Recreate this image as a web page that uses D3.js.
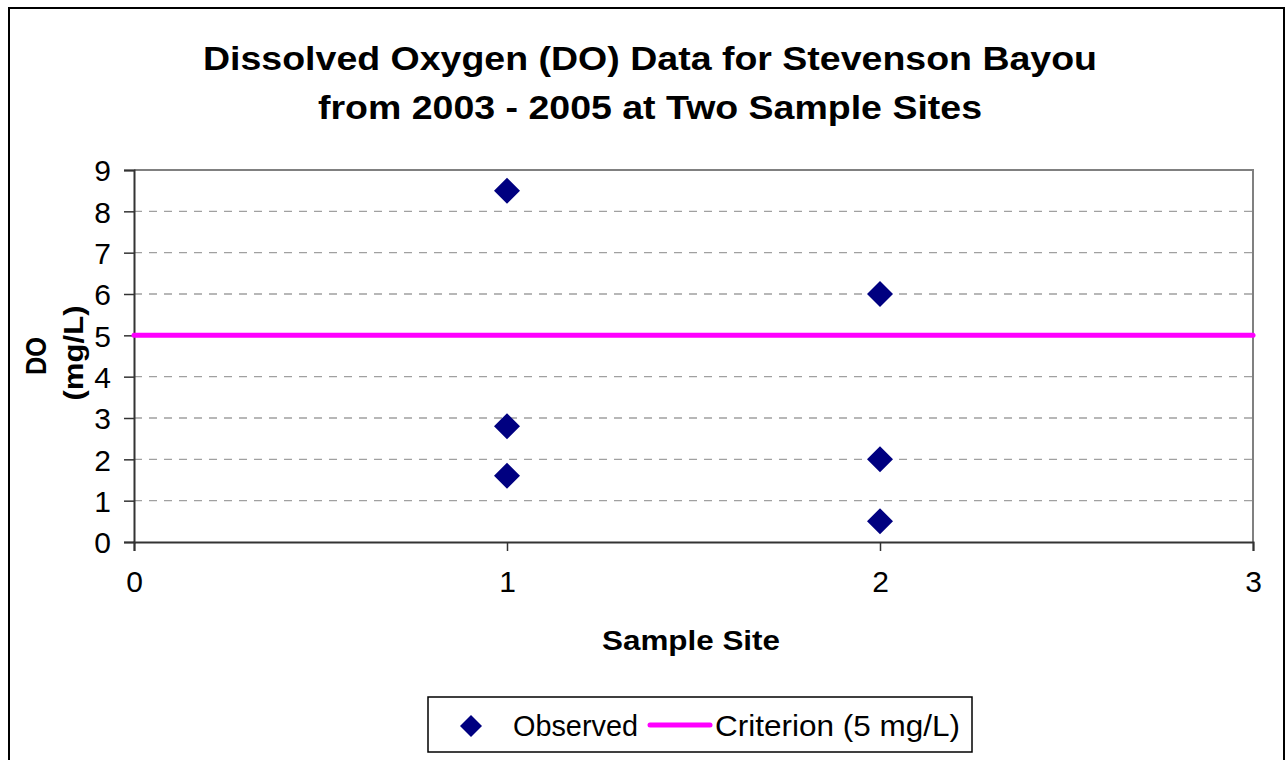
<!DOCTYPE html>
<html>
<head>
<meta charset="utf-8">
<script src="https://cdn.jsdelivr.net/npm/d3@7"></script>
<style>
  html, body { margin: 0; padding: 0; background: #fff; }
  svg { display: block; }
  text { font-family: "Liberation Sans", Arial, sans-serif; fill: #000; }
</style>
</head>
<body>
<svg id="chart" width="1286" height="760"></svg>
<script>
// ---- data ----
const titleLines = ["Dissolved Oxygen (DO) Data for Stevenson Bayou", "from 2003 - 2005 at Two Sample Sites"];
const xLabel = "Sample Site";
const yLabelLines = ["DO", "(mg/L)"];
const siteX = [1, 1, 1, 2, 2, 2];
const observedDO = [8.5, 2.8, 1.6, 6.0, 2.0, 0.5];
const criterionX = [0, 3];
const criterionY = [5, 5];
const xTicks = [0, 1, 2, 3];
const yTicks = [0, 1, 2, 3, 4, 5, 6, 7, 8, 9];
const legendLabels = ["Observed", "Criterion (5 mg/L)"];

// ---- layout ----
const svg = d3.select("#chart");
const plot = { left: 134, right: 1253, top: 170, bottom: 542 };
const x = d3.scaleLinear().domain([0, 3]).range([plot.left, plot.right]);
const y = d3.scaleLinear().domain([0, 9]).range([plot.bottom, plot.top]);

// outer chart border (bottom edge cropped off-screen)
svg.append("rect")
  .attr("x", 9).attr("y", 8).attr("width", 1275).attr("height", 800)
  .attr("fill", "none").attr("stroke", "#000").attr("stroke-width", 2);

// title
svg.append("text").attr("x", 650).attr("y", 70).attr("text-anchor", "middle")
  .style("font-size", "34px").style("font-weight", "bold")
  .attr("textLength", 894).attr("lengthAdjust", "spacingAndGlyphs")
  .text(titleLines[0]);
svg.append("text").attr("x", 650).attr("y", 119).attr("text-anchor", "middle")
  .style("font-size", "34px").style("font-weight", "bold")
  .attr("textLength", 664).attr("lengthAdjust", "spacingAndGlyphs")
  .text(titleLines[1]);

// gridlines
svg.append("g").selectAll("line").data(yTicks.filter(d => d > 0 && d < 9)).join("line")
  .attr("x1", plot.left).attr("x2", plot.right)
  .attr("y1", d => y(d)).attr("y2", d => y(d))
  .attr("stroke", "#a0a0a0").attr("stroke-width", 1.3).attr("stroke-dasharray", "8,7");

// plot frame top/right
svg.append("path")
  .attr("d", `M${plot.left},${plot.top}H${plot.right}V${plot.bottom}`)
  .attr("fill", "none").attr("stroke", "#808080").attr("stroke-width", 2);

// axes
const yAxis = d3.axisLeft(y).tickValues(yTicks).tickSize(10).tickPadding(13).tickFormat(d3.format("d"));
const gy = svg.append("g").attr("transform", `translate(${plot.left},0)`).call(yAxis);
gy.select(".domain").attr("stroke", "#333").attr("stroke-width", 2);
gy.selectAll(".tick line").attr("stroke", "#333").attr("stroke-width", 1.5);
gy.selectAll(".tick text").style("font-size", "30px").style("font-family", "'Liberation Sans', Arial, sans-serif").attr("fill", "#000").attr("dy", "0.36em");

const xAxis = d3.axisBottom(x).tickValues(xTicks).tickSize(9).tickPadding(20).tickFormat(d3.format("d"));
const gx = svg.append("g").attr("transform", `translate(0,${plot.bottom})`).call(xAxis);
gx.select(".domain").attr("stroke", "#333").attr("stroke-width", 2);
gx.selectAll(".tick line").attr("stroke", "#333").attr("stroke-width", 1.5);
gx.selectAll(".tick text").style("font-size", "30px").style("font-family", "'Liberation Sans', Arial, sans-serif").attr("fill", "#000");

// axis titles
svg.append("text").attr("x", 691).attr("y", 650).attr("text-anchor", "middle")
  .style("font-size", "27px").style("font-weight", "bold")
  .attr("textLength", 178).attr("lengthAdjust", "spacingAndGlyphs")
  .text(xLabel);
svg.append("text").attr("transform", "translate(46,356) rotate(-90)").attr("text-anchor", "middle")
  .style("font-size", "29px").style("font-weight", "bold")
  .attr("textLength", 38).attr("lengthAdjust", "spacingAndGlyphs")
  .text(yLabelLines[0]);
svg.append("text").attr("transform", "translate(83,353) rotate(-90)").attr("text-anchor", "middle")
  .style("font-size", "28px").style("font-weight", "bold")
  .attr("textLength", 95).attr("lengthAdjust", "spacingAndGlyphs")
  .text(yLabelLines[1]);

// criterion line
const line = d3.line().x(d => x(d[0])).y(d => y(d[1]));
svg.append("path").datum(criterionX.map((d, i) => [d, criterionY[i]]))
  .attr("d", line).attr("fill", "none").attr("stroke", "#FF00FF")
  .attr("stroke-width", 5).attr("stroke-linecap", "round");

// observed points
const diamond = (cx, cy, r) => `M${cx},${cy - r}L${cx + r},${cy}L${cx},${cy + r}L${cx - r},${cy}Z`;
svg.append("g").selectAll("path").data(observedDO).join("path")
  .attr("d", (d, i) => diamond(x(siteX[i]), y(d), 13))
  .attr("fill", "#000080");

// legend
const lg = svg.append("g");
lg.append("rect").attr("x", 428).attr("y", 697).attr("width", 544).attr("height", 55)
  .attr("fill", "#fff").attr("stroke", "#000").attr("stroke-width", 1.5);
lg.append("path").attr("d", diamond(471, 726, 11)).attr("fill", "#000080");
lg.append("text").attr("x", 513).attr("y", 736).style("font-size", "29px")
  .attr("textLength", 125).attr("lengthAdjust", "spacingAndGlyphs")
  .text(legendLabels[0]);
lg.append("line").attr("x1", 650).attr("x2", 710).attr("y1", 725).attr("y2", 725)
  .attr("stroke", "#FF00FF").attr("stroke-width", 5).attr("stroke-linecap", "round");
lg.append("text").attr("x", 715).attr("y", 736).style("font-size", "29px")
  .attr("textLength", 245).attr("lengthAdjust", "spacingAndGlyphs")
  .text(legendLabels[1]);
</script>
</body>
</html>
